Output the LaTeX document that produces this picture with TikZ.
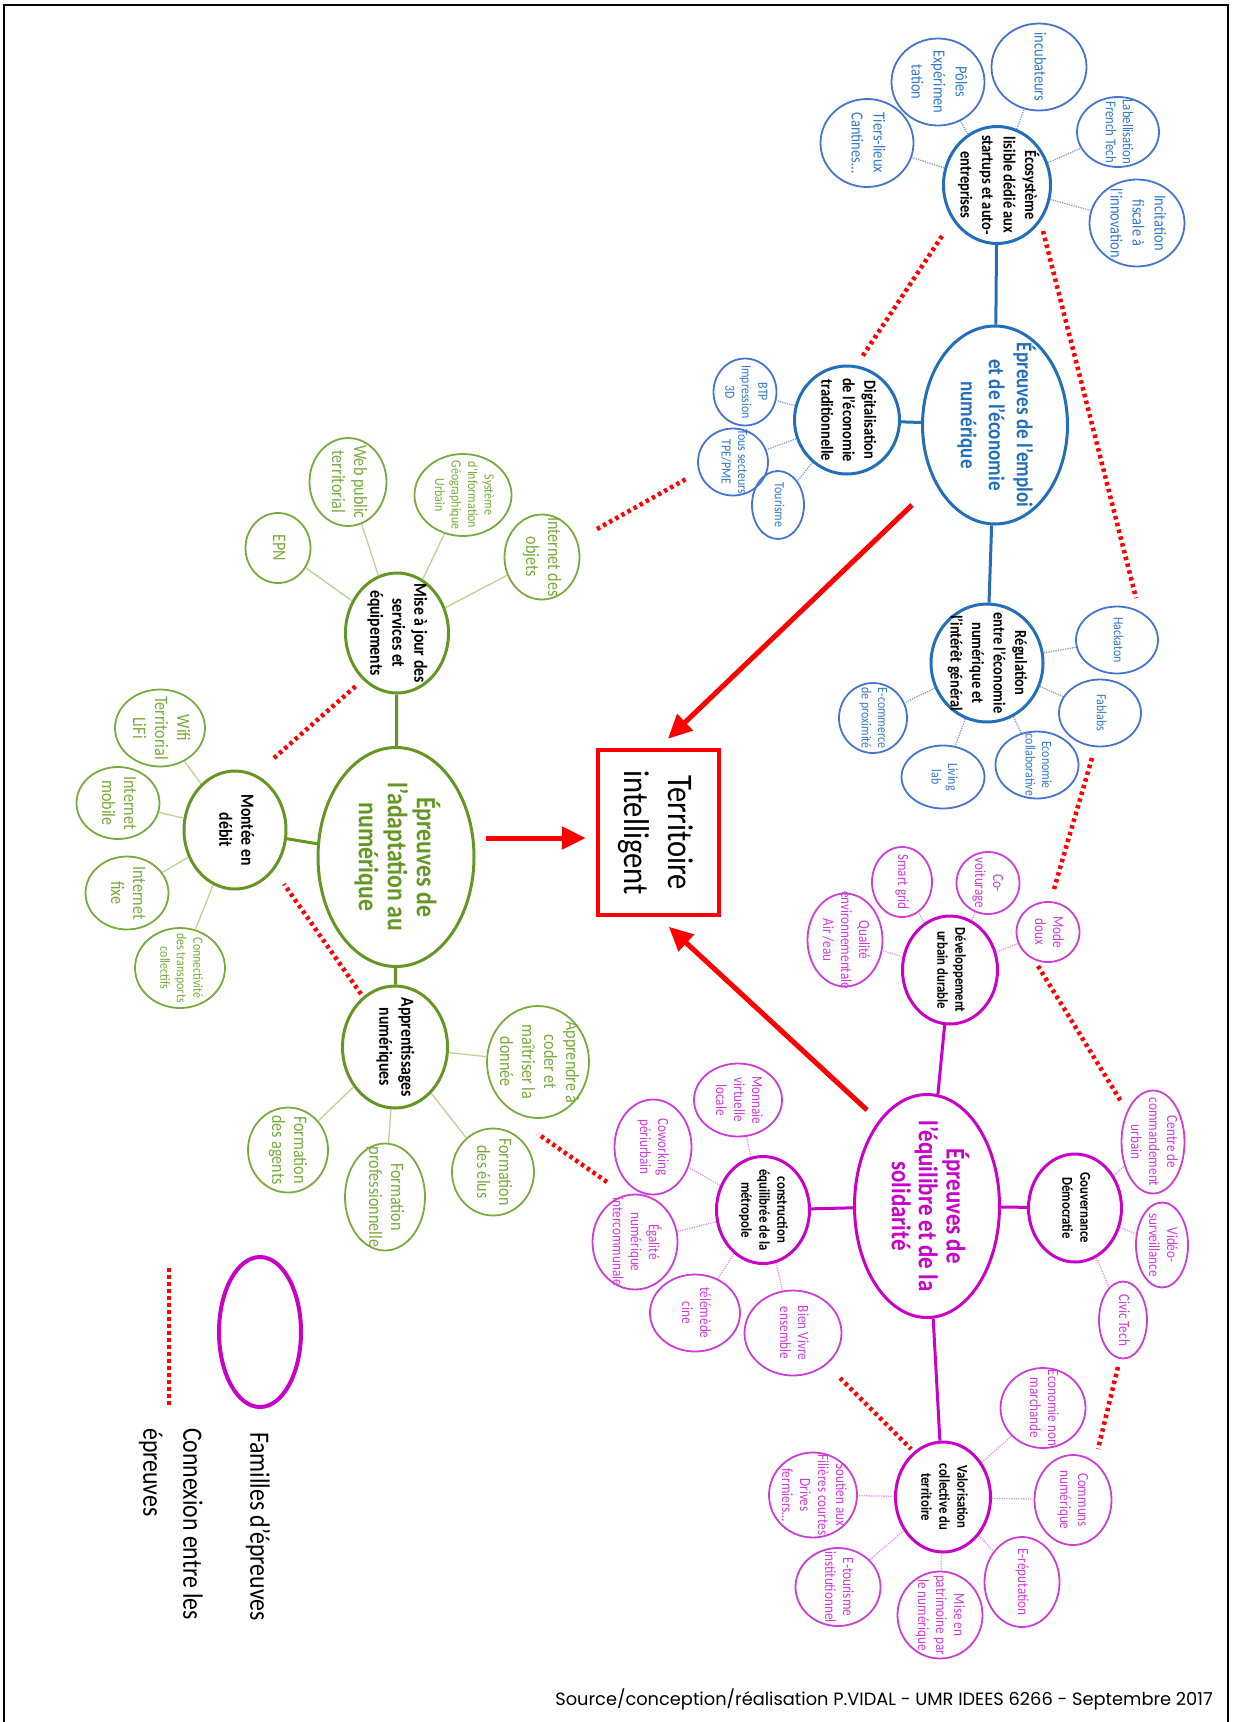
\documentclass[tikz,border=0pt]{standalone}
\usepackage{fontspec}
\setmainfont{Carlito}[FakeStretch=0.85]
\newfontfamily\sourcefont{Poppins}
\usetikzlibrary{arrows.meta, shapes.geometric}

\definecolor{bleu}{RGB}{35,110,185}
\definecolor{bleuL}{RGB}{70,115,210}
\definecolor{bleuT}{RGB}{50,120,200}
\definecolor{bleuD}{RGB}{120,150,215}
\definecolor{vert}{RGB}{100,150,35}
\definecolor{vertL}{RGB}{120,170,60}
\definecolor{vertD}{RGB}{185,210,150}
\definecolor{mag}{RGB}{200,0,200}
\definecolor{magL}{RGB}{205,60,215}
\definecolor{magD}{RGB}{225,140,230}

% text of a bubble, kept out of the bubble size
\newcommand\mtxt[1]{\makebox[0pt]{\smash{\raisebox{-.25em}{\begin{tabular}[c]{@{}c@{}}#1\end{tabular}}}}}

\tikzset{
  bulle/.style={ellipse, draw, rotate=-90, inner sep=0pt},
  sz/.style 2 args={minimum height=#1pt, minimum width=#2pt},
  fam/.style={bulle, line width=3pt, draw=#1, text=#1},
  hub/.style={bulle, line width=3pt, draw=#1, text=black},
  leaf/.style={bulle, line width=1.8pt, draw=#1},
  twig/.style={#1, line width=1.3pt},
  stem/.style={#1, line width=3pt},
  link/.style={red, line width=4.5pt, dash pattern=on 3.5pt off 3.5pt},
  toward/.style={red, line width=5pt, -{Triangle[length=24pt,width=22pt]}}
}

\begin{document}
\begin{tikzpicture}[
  x=1pt, y=-1pt,
  famB/.style={fam=bleu, font=\bfseries\fontsize{22.5}{28}\selectfont},
  hubB/.style={hub=bleu, font=\bfseries\fontsize{17}{21.5}\selectfont},
  leafB/.style={leaf=bleuL, text=bleuT, font=\fontsize{17}{22}\selectfont},
  leafb/.style={leafB, font=\fontsize{14}{16.5}\selectfont},
  twigB/.style={twig=bleuD, dash pattern=on 1.2pt off 1.2pt},
  famG/.style={fam=vert, font=\bfseries\fontsize{28}{29}\selectfont},
  hubG/.style={hub=vert, font=\bfseries\fontsize{18.5}{22}\selectfont},
  leafG/.style={leaf=vertL, text=vertL, font=\fontsize{19}{22}\selectfont},
  leafg/.style={leafG, font=\fontsize{14}{16.5}\selectfont},
  twigG/.style={twig=vertD},
  famM/.style={fam=mag, font=\bfseries\fontsize{27}{27}\selectfont},
  hubM/.style={hub=mag, font=\bfseries\fontsize{15}{18}\selectfont},
  leafM/.style={leaf=magL, text=magL, font=\fontsize{15.5}{18}\selectfont},
  twigM/.style={twig=magD, dash pattern=on 1.2pt off 1.2pt}
]
\useasboundingbox (0,0) rectangle (1232,1722);
\draw[line width=2.5pt] (4,1722) -- (4,5) -- (1228,5) -- (1228,1722);

% centre
\node[draw=red, line width=4.5pt, rotate=-90, sz={121}{165}, inner sep=0pt,
  font=\fontsize{36}{44}\selectfont] (terr) at (658.5,832.5) {\mtxt{Territoire\\intelligent}};

% emploi et economie numerique
\node[famB, sz={145}{198}] (emploi) at (995,425) {\mtxt{Épreuves de l'emploi\\et de l'économie\\numérique}};
\node[hubB, sz={107}{117}] (eco) at (997,185) {\mtxt{Écosystème\\lisible dédié aux\\startups et auto-\\entreprises}};
\node[leafB, sz={95}{87}] (incub) at (1039,67) {\mtxt{incubateurs}};
\node[leafB, sz={93}{87}] (poles) at (938,82) {\mtxt{Pôles\\Expérimen\\tation}};
\node[leafB, sz={93}{88}] (tiers) at (867,143) {\mtxt{Tiers-lieux\\Cantines…}};
\node[leafB, sz={82}{70}, font=\fontsize{15}{17}\selectfont] (label) at (1118,132) {\mtxt{Labellisation\\French Tech}};
\node[leafB, sz={95}{87}] (incit) at (1137,223) {\mtxt{Incitation\\fiscale à\\l'innovation}};
\node[hubB, sz={105}{108}] (digit) at (847,420) {\mtxt{Digitalisation\\de l'économie\\traditionnelle}};
\node[leafb, sz={63}{67}] (btp) at (745,392) {\mtxt{BTP\\Impression\\3D}};
\node[leafb, sz={70}{67}] (tpe) at (733,462) {\mtxt{Tous secteurs\\TPE/PME}};
\node[leafb, sz={52}{68}] (tour) at (778,505) {\mtxt{Tourisme}};
\node[hubB, sz={112}{118}] (regul) at (987,663) {\mtxt{Régulation\\entre l'économie\\numérique et\\l'intérêt général}};
\node[leafb, sz={82}{67}] (hack) at (1117,640) {\mtxt{Hackaton}};
\node[leafb, sz={82}{67}] (fab) at (1100,713) {\mtxt{Fablabs}};
\node[leafb, sz={83}{67}] (collab) at (1037,765) {\mtxt{Economie\\collaborative}};
\node[leafb, sz={83}{63}] (living) at (943,777) {\mtxt{Living\\lab}};
\node[leafb, sz={68}{70}] (ecom) at (873,718) {\mtxt{E-commerce\\de proximité}};

\draw[stem=bleu] (eco) -- (emploi);
\draw[stem=bleu] (emploi) -- (digit);
\draw[stem=bleu] (emploi) -- (regul);
\foreach \l in {incub,poles,tiers,label,incit} \draw[twigB] (eco) -- (\l);
\foreach \l in {btp,tpe,tour} \draw[twigB] (digit) -- (\l);
\foreach \l in {hack,fab,collab,living,ecom} \draw[twigB] (regul) -- (\l);

% adaptation au numerique
\node[famG, sz={156}{219}] (adapt) at (396,857) {\mtxt{Épreuves de\\l'adaptation au\\numérique}};
\node[hubG, sz={103}{120}] (maj) at (397,633) {\mtxt{Mise à jour des\\services et\\équipements}};
\node[leafG, sz={65}{70}] (epn) at (278,548) {\mtxt{EPN}};
\node[leafG, sz={77}{88}] (web) at (348,482) {\mtxt{Web public\\territorial}};
\node[leafg, sz={97}{82}] (sig) at (463,495) {\mtxt{Système\\d'Information\\Géographique\\Urbain}};
\node[leafG, sz={75}{85}] (iot) at (542,557) {\mtxt{Internet des\\objets}};
\node[hubG, sz={102}{118}] (montee) at (235,830) {\mtxt{Montée en\\débit}};
\node[leafG, sz={90}{77}] (wifi) at (160,728) {\mtxt{Wifi\\Territorial\\LiFi}};
\node[leafG, sz={83}{72}] (mobile) at (118,803) {\mtxt{Internet\\mobile}};
\node[leafG, sz={83}{73}] (fixe) at (127,893) {\mtxt{Internet\\fixe}};
\node[leafg, sz={90}{80}] (transp) at (180,968) {\mtxt{Connectivité\\des transports\\collectifs}};
\node[hubG, sz={105}{122}] (appr) at (395,1047) {\mtxt{Apprentissages\\numériques}};
\node[leafG, sz={102}{112}] (coder) at (538,1062) {\mtxt{Apprendre à\\coder et\\maîtriser la\\donnée}};
\node[leafG, sz={82}{87}] (elus) at (493,1172) {\mtxt{Formation\\des élus}};
\node[leafG, sz={80}{107}] (pro) at (385,1197) {\mtxt{Formation\\professionnelle}};
\node[leafG, sz={80}{85}] (agents) at (288,1150) {\mtxt{Formation\\des agents}};

\draw[stem=vert] (adapt) -- (maj);
\draw[stem=vert] (adapt) -- (montee);
\draw[stem=vert] (adapt) -- (appr);
\foreach \l in {epn,web,sig,iot} \draw[twigG] (maj) -- (\l);
\foreach \l in {wifi,mobile,fixe,transp} \draw[twigG] (montee) -- (\l);
\foreach \l in {coder,elus,pro,agents} \draw[twigG] (appr) -- (\l);

% equilibre et solidarite
\node[famM, sz={145}{223}] (equil) at (927,1206) {\mtxt{Épreuves de\\l'équilibre et de la\\solidarité}};
\node[hubM, sz={95}{108}] (dev) at (950,970) {\mtxt{Développement\\urbain durable}};
\node[leafM, sz={60}{70}] (smart) at (902,882) {\mtxt{Smart grid}};
\node[leafM, sz={63}{62}] (covoit) at (988,883) {\mtxt{Co-\\voiturage}};
\node[leafM, sz={63}{60}] (doux) at (1048,932) {\mtxt{Mode\\doux}};
\node[leafM, sz={75}{93}] (qual) at (845,940) {\mtxt{Qualité\\environnementale\\Air /eau}};
\node[hubM, sz={93}{107}] (constr) at (763,1210) {\mtxt{construction\\équilibrée de la\\métropole}};
\node[leafM, sz={88}{73}] (monnaie) at (738,1100) {\mtxt{Monnaie\\virtuelle\\locale}};
\node[leafM, sz={77}{95}] (cowork) at (653,1147) {\mtxt{Coworking\\périurbain}};
\node[leafM, sz={85}{95}] (egal) at (635,1242) {\mtxt{Égalité\\numérique\\intercommunale}};
\node[leafM, sz={90}{77}] (tele) at (695,1313) {\mtxt{télémède\\cine}};
\node[leafM, sz={97}{85}] (bien) at (793,1333) {\mtxt{Bien Vivre\\ensemble}};
\node[hubM, sz={93}{108}] (gouv) at (1075,1208) {\mtxt{Gouvernance\\Démocratie}};
\node[leafM, sz={63}{103}] (centre) at (1153,1142) {\mtxt{Centre de\\commandement\\urbain}};
\node[leafM, sz={52}{85}] (video) at (1162,1245) {\mtxt{Vidéo-\\surveillance}};
\node[leafM, sz={48}{77}] (civic) at (1123,1320) {\mtxt{Civic Tech}};
\node[hubM, sz={95}{110}] (valo) at (943,1497) {\mtxt{Valorisation\\collective du\\territoire}};
\node[leafM, sz={85}{80}] (econm) at (1043,1408) {\mtxt{Economie non\\marchande}};
\node[leafM, sz={77}{90}] (communs) at (1073,1500) {\mtxt{Communs\\numérique}};
\node[leafM, sz={75}{90}] (ereput) at (1022,1582) {\mtxt{E-réputation}};
\node[leafM, sz={85}{87}] (patri) at (940,1615) {\mtxt{Mise en\\patrimoine par\\le numérique}};
\node[leafM, sz={85}{78}] (etour) at (838,1587) {\mtxt{E-tourisme\\institutionnel}};
\node[leafM, sz={88}{85}] (soutien) at (813,1495) {\mtxt{Soutien aux\\Filières courtes\\Drives\\fermiers…}};

\draw[stem=mag] (equil) -- (dev);
\draw[stem=mag] (equil) -- (constr);
\draw[stem=mag] (equil) -- (gouv);
\draw[stem=mag] (equil) -- (valo);
\foreach \l in {smart,covoit,doux,qual} \draw[twigM] (dev) -- (\l);
\foreach \l in {monnaie,cowork,egal,tele,bien} \draw[twigM] (constr) -- (\l);
\foreach \l in {centre,video,civic} \draw[twigM] (gouv) -- (\l);
\foreach \l in {econm,communs,ereput,patri,etour,soutien} \draw[twigM] (valo) -- (\l);

% vers le territoire intelligent
\coordinate (fromEmploi) at (912,505);
\coordinate (fromAdapt) at (486,838);
\coordinate (fromEquil) at (867,1110);
\draw[toward, shorten >=13pt] (fromEmploi) -- (terr.west);
\draw[toward, shorten >=10pt] (fromAdapt) -- (fromAdapt -| terr.south);
\draw[toward, shorten >=14pt] (fromEquil) -- (terr.east);

% connexions entre les epreuves
\coordinate (c1a) at (942,236);   \coordinate (c1b) at (862,357);
\coordinate (c2a) at (1043,231);  \coordinate (c2b) at (1136,598);
\coordinate (c3a) at (1092,758);  \coordinate (c3b) at (1054,889);
\coordinate (c4a) at (1038,966);  \coordinate (c4b) at (1122,1103);
\coordinate (c5a) at (1118,1367); \coordinate (c5b) at (1098,1449);
\coordinate (c6a) at (840,1378);  \coordinate (c6b) at (911,1449);
\coordinate (c7a) at (607,1182);  \coordinate (c7b) at (538,1134);
\coordinate (c8a) at (361,994);   \coordinate (c8b) at (284,884);
\coordinate (c9a) at (274,758);   \coordinate (c9b) at (357,685);
\coordinate (c10a) at (597,529);  \coordinate (c10b) at (686,479);
\foreach \i in {1,...,10} \draw[link] (c\i a) -- (c\i b);

% legende
\node[bulle, draw=mag, line width=4pt, sz={82}{150}] (legfam) at (260,1332) {};
\node[rotate=-90, anchor=west, inner sep=0pt, font=\fontsize{28}{40}\selectfont] (legfamtxt) at (258,1432) {Familles d'épreuves};
\coordinate (legA) at (169,1268);
\coordinate (legB) at (169,1405);
\draw[link] (legA) -- (legB);
\node[rotate=-90, anchor=north west, align=left, inner sep=0pt, font=\fontsize{28}{40}\selectfont] (leglink) at (203,1428) {Connexion entre les\\épreuves};

\node[anchor=east, inner sep=0pt, font=\sourcefont\fontsize{17.8}{20}\selectfont] (source) at (1213,1699) {Source/conception/réalisation P.VIDAL - UMR IDEES 6266 - Septembre 2017};
\end{tikzpicture}
\end{document}
